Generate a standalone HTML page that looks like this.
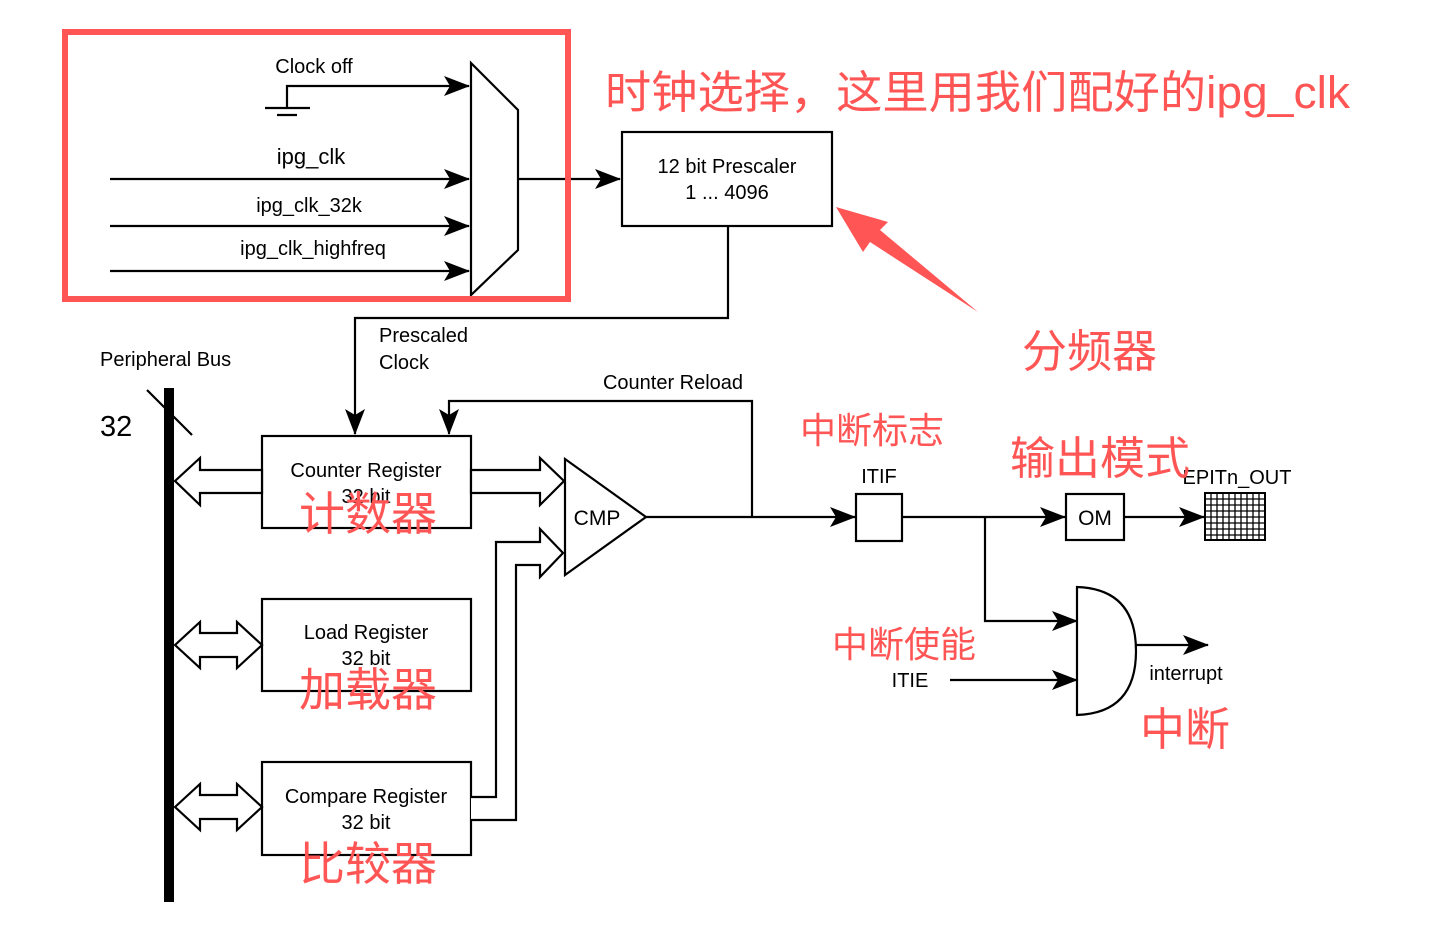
<!DOCTYPE html>
<html><head><meta charset="utf-8"><style>
html,body{margin:0;padding:0;background:#fff;}
svg{display:block;}
text{font-family:"Liberation Sans","Noto Sans CJK SC",sans-serif;fill:#000;}
.r{fill:#ff5555;}
</style></head><body>
<svg width="1431" height="936" viewBox="0 0 1431 936" xmlns="http://www.w3.org/2000/svg">
<defs>
<marker id="a" markerWidth="26" markerHeight="20" refX="25" refY="10" orient="auto" markerUnits="userSpaceOnUse">
<path d="M0,0 L26,10 L0,20 L6,10 Z" fill="#000"/>
</marker>
</defs>
<g stroke="#000" stroke-width="2.2" fill="none">
<polygon points="471,63 518,110 518,250 471,295" fill="#fff"/>
<path d="M287,108 V86 H469" marker-end="url(#a)"/>
<line x1="265" y1="108" x2="310" y2="108"/>
<line x1="277" y1="115" x2="297" y2="115"/>
<line x1="110" y1="179" x2="469" y2="179" marker-end="url(#a)"/>
<line x1="110" y1="226" x2="469" y2="226" marker-end="url(#a)"/>
<line x1="110" y1="271" x2="469" y2="271" marker-end="url(#a)"/>
<line x1="518" y1="179" x2="620" y2="179" marker-end="url(#a)"/>
<rect x="622" y="132" width="210" height="94"/>
<path d="M728,226 V318 H355 V434" marker-end="url(#a)"/>
<path d="M752,517 V401 H449 V434" marker-end="url(#a)"/>
<line x1="147" y1="390" x2="192" y2="435"/>
<rect x="262" y="436" width="209" height="92"/>
<rect x="262" y="599" width="209" height="92"/>
<rect x="262" y="762" width="209" height="93"/>
<polygon points="262,470 200,470 200,458 175,481 200,505 200,493 262,493" fill="#fff"/>
<polygon points="471,470 540,470 540,458 564,481 540,505 540,493 471,493" fill="#fff"/>
<polygon points="175,645 200,622 200,633 237,633 237,622 262,645 237,668 237,657 200,657 200,668" fill="#fff"/>
<polygon points="175,807 200,784 200,795 237,795 237,784 262,807 237,830 237,819 200,819 200,830" fill="#fff"/>
<path d="M471,797 H496 V542 H540 V529 L563,553 L540,577 V565 H516 V820 H471" fill="#fff"/>
<polygon points="565,459 565,575 646,517" fill="#fff"/>
<line x1="646" y1="517" x2="855" y2="517" marker-end="url(#a)"/>
<rect x="856" y="494" width="46" height="47"/>
<line x1="902" y1="517" x2="1065" y2="517" marker-end="url(#a)"/>
<rect x="1066" y="494" width="58" height="46"/>
<line x1="1124" y1="517" x2="1204" y2="517" marker-end="url(#a)"/>
<path d="M985,517 V621 H1077" marker-end="url(#a)"/>
<line x1="950" y1="680" x2="1077" y2="680" marker-end="url(#a)"/>
<path d="M1077,587 V715 Q1136,713 1136,651 Q1136,589 1077,587 Z" fill="#fff"/>
<line x1="1136" y1="645" x2="1208" y2="645" marker-end="url(#a)"/>
</g>
<rect x="1205" y="493" width="60" height="47" fill="#fff" stroke="#000" stroke-width="2"/>
<g stroke="#000" stroke-width="1.3">
<line x1="1211" y1="493" x2="1211" y2="540"/><line x1="1217" y1="493" x2="1217" y2="540"/><line x1="1223" y1="493" x2="1223" y2="540"/><line x1="1229" y1="493" x2="1229" y2="540"/><line x1="1235" y1="493" x2="1235" y2="540"/><line x1="1241" y1="493" x2="1241" y2="540"/><line x1="1247" y1="493" x2="1247" y2="540"/><line x1="1253" y1="493" x2="1253" y2="540"/><line x1="1259" y1="493" x2="1259" y2="540"/>
<line x1="1205" y1="499" x2="1265" y2="499"/><line x1="1205" y1="505" x2="1265" y2="505"/><line x1="1205" y1="511" x2="1265" y2="511"/><line x1="1205" y1="517" x2="1265" y2="517"/><line x1="1205" y1="523" x2="1265" y2="523"/><line x1="1205" y1="529" x2="1265" y2="529"/><line x1="1205" y1="535" x2="1265" y2="535"/>
</g>
<rect x="164" y="388" width="10" height="514" fill="#000"/>
<rect x="65" y="32" width="503" height="267" fill="none" stroke="#ff5555" stroke-width="6"/>
<polygon points="836,207 888,222 880,230 978,312 870,242 863,252" fill="#ff5555"/>
<g font-size="20">
<text x="314" y="73" text-anchor="middle">Clock off</text>
<text x="311" y="164" text-anchor="middle" font-size="22">ipg_clk</text>
<text x="309" y="212" text-anchor="middle">ipg_clk_32k</text>
<text x="313" y="255" text-anchor="middle">ipg_clk_highfreq</text>
<text x="727" y="173" text-anchor="middle">12 bit Prescaler</text>
<text x="727" y="199" text-anchor="middle">1 ... 4096</text>
<text x="379" y="342">Prescaled</text>
<text x="379" y="369">Clock</text>
<text x="100" y="366">Peripheral Bus</text>
<text x="100" y="436" font-size="29">32</text>
<text x="673" y="389" text-anchor="middle">Counter Reload</text>
<text x="366" y="477" text-anchor="middle">Counter Register</text>
<text x="366" y="503" text-anchor="middle">32 bit</text>
<text x="366" y="639" text-anchor="middle">Load Register</text>
<text x="366" y="665" text-anchor="middle">32 bit</text>
<text x="366" y="803" text-anchor="middle">Compare Register</text>
<text x="366" y="829" text-anchor="middle">32 bit</text>
<text x="597" y="525" text-anchor="middle" font-size="21">CMP</text>
<text x="879" y="483" text-anchor="middle">ITIF</text>
<text x="1095" y="525" text-anchor="middle" font-size="21">OM</text>
<text x="1237" y="484" text-anchor="middle">EPITn_OUT</text>
<text x="910" y="687" text-anchor="middle">ITIE</text>
<text x="1186" y="680" text-anchor="middle">interrupt</text>
</g>
<g>
<text class="r" x="605" y="108" font-size="45" textLength="745" lengthAdjust="spacingAndGlyphs">时钟选择，这里用我们配好的ipg_clk</text>
<text class="r" x="1022" y="367" font-size="45">分频器</text>
<text class="r" x="800" y="443" font-size="36">中断标志</text>
<text class="r" x="1010" y="474" font-size="45">输出模式</text>
<text class="r" x="832" y="657" font-size="36">中断使能</text>
<text class="r" x="1140" y="745" font-size="45">中断</text>
<text class="r" x="299" y="530" font-size="46">计数器</text>
<text class="r" x="299" y="706" font-size="46">加载器</text>
<text class="r" x="299" y="880" font-size="46">比较器</text>
</g>
</svg>
</body></html>
